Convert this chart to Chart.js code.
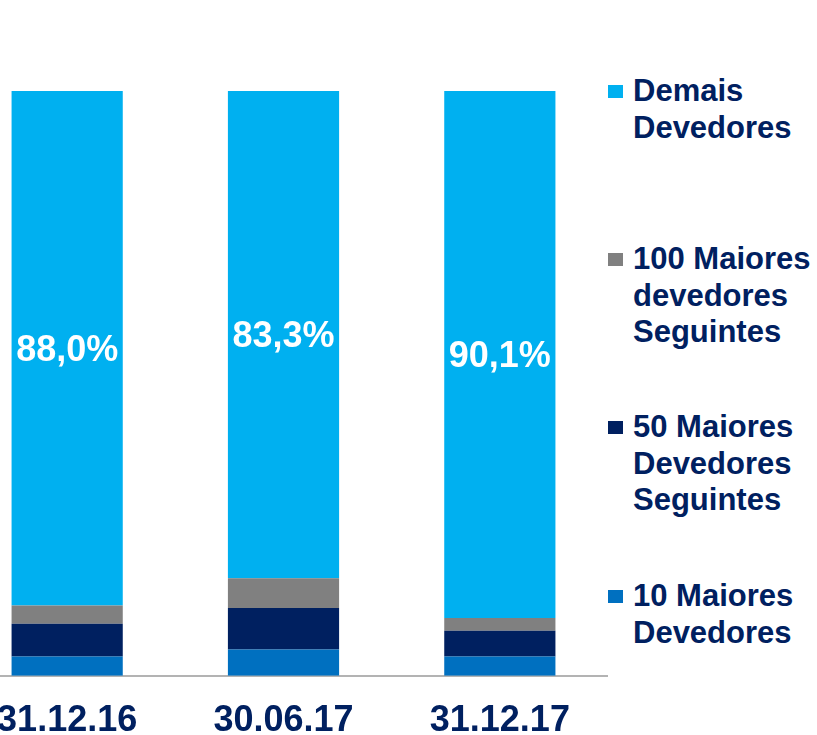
<!DOCTYPE html>
<html>
<head>
<meta charset="utf-8">
<script src="https://cdn.jsdelivr.net/npm/chart.js@4.4.1/dist/chart.umd.min.js"></script>
<style>
  html, body { margin: 0; padding: 0; background: #ffffff; }
  body { width: 817px; height: 735px; position: relative; overflow: hidden; }
  #wrap { position: absolute; left: -41px; top: 0; width: 649px; height: 772px; }
  #legend { position: absolute; left: 0; top: 0; }
  .item { position: absolute; left: 608px; font-family: "Liberation Sans", Arial, sans-serif; font-weight: bold; font-size: 31px; line-height: 36.5px; color: #002060; }
  .sw { position: absolute; left: 0; top: 12px; width: 15px; height: 13px; }
  .txt { position: absolute; left: 25px; top: 0; white-space: nowrap; }
</style>
</head>
<body>
<div id="wrap"><canvas id="c" width="649" height="772"></canvas></div>
<div id="legend"></div>
<script>
const categories = ['31.12.16', '30.06.17', '31.12.17'];
const top10 = [3.3, 4.5, 3.3];
const next50 = [5.6, 7.1, 4.4];
const next100 = [3.1, 5.1, 2.2];
const demais = [88.0, 83.3, 90.1];

const seriesNames = [
  ['10 Maiores', 'Devedores'],
  ['50 Maiores', 'Devedores', 'Seguintes'],
  ['100 Maiores', 'devedores', 'Seguintes'],
  ['Demais', 'Devedores']
];
const seriesColors = ['#0070c0', '#002060', '#808080', '#00b0f0'];
const seriesData = [top10, next50, next100, demais];

const fmt = v => v.toFixed(1).replace('.', ',') + '%';

const labelPlugin = {
  id: 'demaisLabels',
  afterDatasetsDraw(chart) {
    const ctx = chart.ctx;
    const meta = chart.getDatasetMeta(3);
    ctx.save();
    ctx.fillStyle = '#ffffff';
    ctx.font = 'bold 36px "Liberation Sans", Arial, sans-serif';
    ctx.textAlign = 'center';
    ctx.textBaseline = 'middle';
    meta.data.forEach((bar, i) => {
      const y = (bar.y + bar.base) / 2 + 3;
      ctx.fillText(fmt(demais[i]), bar.x, y);
    });
    ctx.restore();
  }
};

new Chart(document.getElementById('c'), {
  type: 'bar',
  data: {
    labels: categories,
    datasets: seriesData.map((d, i) => ({
      label: seriesNames[i].join(' '),
      data: d,
      backgroundColor: seriesColors[i],
      borderWidth: 0,
      categoryPercentage: 1,
      barPercentage: 0.514
    }))
  },
  options: {
    responsive: false,
    animation: false,
    layout: { padding: { top: 91, left: 0, right: 0, bottom: 5 } },
    plugins: { legend: { display: false }, tooltip: { enabled: false } },
    scales: {
      x: {
        stacked: true,
        grid: { display: false, drawTicks: false },
        border: { display: true, color: '#b3b3b3', width: 2 },
        ticks: {
          color: '#002060',
          padding: 24,
          font: { family: '"Liberation Sans", Arial, sans-serif', weight: 'bold', size: 36 }
        }
      },
      y: {
        stacked: true,
        display: false,
        min: 0,
        max: 100
      }
    }
  },
  plugins: [labelPlugin]
});

// HTML legend built from series arrays (top to bottom: reverse stack order)
const legendTops = [578, 409, 241, 73];
const legend = document.getElementById('legend');
seriesNames.forEach((lines, i) => {
  const div = document.createElement('div');
  div.className = 'item';
  div.style.top = legendTops[i] + 'px';
  const sw = document.createElement('div');
  sw.className = 'sw';
  sw.style.background = seriesColors[i];
  const t = document.createElement('div');
  t.className = 'txt';
  t.innerHTML = lines.join('<br>');
  div.appendChild(sw);
  div.appendChild(t);
  legend.appendChild(div);
});
</script>
</body>
</html>
